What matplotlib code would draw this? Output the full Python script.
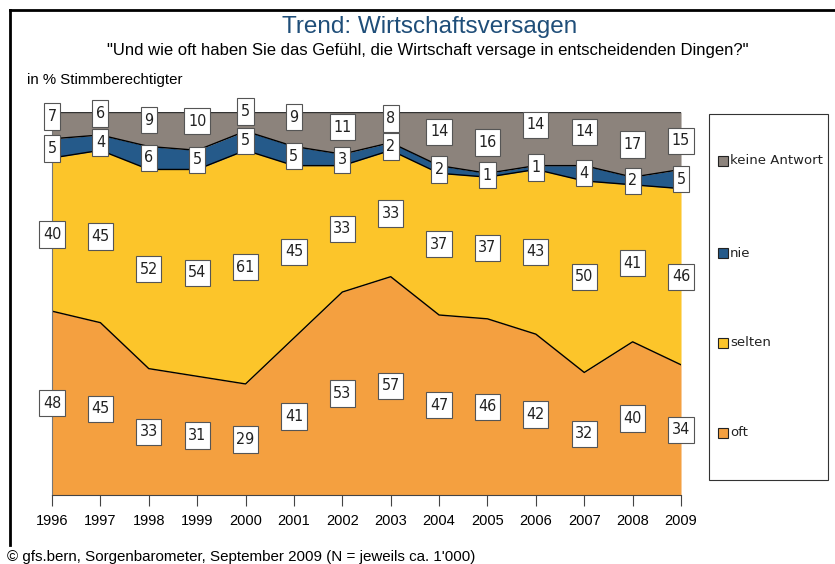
import numpy as np
import matplotlib
matplotlib.use("Agg")
import matplotlib.pyplot as plt
import matplotlib.patches as mpatches
from matplotlib.lines import Line2D
from matplotlib.path import Path

years = [1996, 1997, 1998, 1999, 2000, 2001, 2002, 2003, 2004, 2005, 2006, 2007, 2008, 2009]
oft = [48, 45, 33, 31, 29, 41, 53, 57, 47, 46, 42, 32, 40, 34]
selten = [40, 45, 52, 54, 61, 45, 33, 33, 37, 37, 43, 50, 41, 46]
nie = [5, 4, 6, 5, 5, 5, 3, 2, 2, 1, 1, 4, 2, 5]
keine = [7, 6, 9, 10, 5, 9, 11, 8, 14, 16, 14, 14, 17, 15]

series = [oft, selten, nie, keine]
names = ['oft', 'selten', 'nie', 'keine Antwort']
colors = ['#F4A040', '#FCC52A', '#255A8A', '#8C837C']

# nudge (pixels, up) of the "keine Antwort" labels, as in the original
keine_nudge = [9, 10, 9, 10, 10, 12, 6, 9, 7, 0, 14, 7, 0, 0]

txtfont = 'Liberation Sans'


def label_box(x0, y0, width, height, mutation_size):
    # narrow horizontal padding, tall boxes
    px = 3.5
    h = max(height, 1.65 * mutation_size)
    cy = y0 + height / 2
    xa, xb = x0 - px, x0 + width + px
    ya, yb = cy - h / 2, cy + h / 2
    return Path([(xa, ya), (xb, ya), (xb, yb), (xa, yb), (xa, ya)], closed=True)


fig = plt.figure(figsize=(8.35, 5.64), dpi=100)
ax = fig.add_axes([0.0623, 0.1223, 0.7533, 0.6791])

x = np.array(years)
data = np.array(series, dtype=float)
cum = np.cumsum(data, axis=0)
base = np.vstack([np.zeros(len(x)), cum[:-1]])

for i in range(len(series)):
    ax.fill_between(x, base[i], cum[i], color=colors[i], linewidth=0)
# boundary lines
ax.plot(x, cum[0], color='black', lw=1)
ax.plot(x, cum[1], color='black', lw=1)
ax.plot(x, cum[2], color='black', lw=1)
ax.plot(x, cum[3], color='#333333', lw=1)

# value labels in boxes
for i in range(len(series)):
    mids = base[i] + data[i] / 2
    for j, (xi, yi, v) in enumerate(zip(x, mids, data[i])):
        up = keine_nudge[j] if i == 3 else 0
        ax.annotate('%d' % v, (xi, yi), xytext=(0, up * 0.72), textcoords='offset points',
                    ha='center', va='center', fontsize=11.5, family='DejaVu Sans',
                    fontstretch='condensed', color='#222222', zorder=5,
                    bbox=dict(boxstyle=label_box, fc='white', ec='#555555', lw=0.8))

ax.set_xlim(1996, 2009)
ax.set_ylim(0, 100)
ax.set_xticks(years)
ax.set_xticklabels([str(y) for y in years], family=txtfont, fontsize=10.5)
ax.tick_params(axis='x', length=8, direction='out', color='#444444', pad=6)
ax.set_yticks([])
for s in ['top', 'right']:
    ax.spines[s].set_visible(False)
ax.spines['left'].set_color('#777777')
ax.spines['bottom'].set_color('#444444')

# legend box drawn in figure coordinates
W, H = 835.0, 564.0
fig.add_artist(mpatches.Rectangle((709 / W, 1 - 480 / H), 119 / W, 366 / H,
                                  transform=fig.transFigure, fc='white',
                                  ec='#333333', lw=0.8))
leg_y = [161, 253, 343, 433]
for k, i in enumerate(range(3, -1, -1)):
    yy = 1 - leg_y[k] / H
    fig.add_artist(mpatches.Rectangle((718 / W, yy - 5 / H), 10 / W, 10 / H,
                                      transform=fig.transFigure, fc=colors[i],
                                      ec='#222222', lw=0.8))
    fig.text(730 / W, yy, names[i], ha='left', va='center', fontsize=9.5,
             color='#222222')

fig.text(0.515, 0.952, 'Trend: Wirtschaftsversagen', ha='center', va='center',
         family=txtfont, fontsize=17.5, color='#1F4E79')
fig.text(0.512, 0.911, '"Und wie oft haben Sie das Gefühl, die Wirtschaft versage in entscheidenden Dingen?"',
         ha='center', va='center', family=txtfont, fontsize=12)
fig.text(0.032, 0.858, 'in % Stimmberechtigter', ha='left', va='center',
         family=txtfont, fontsize=10.8)
fig.text(0.008, 0.012, '© gfs.bern, Sorgenbarometer, September 2009 (N = jeweils ca. 1\'000)',
         ha='left', va='center', family=txtfont, fontsize=10.9)

# outer frame
fig.add_artist(Line2D([10 / W, 10 / W], [1 - 545 / H, 1 - 10 / H], color='black', lw=2,
                      transform=fig.transFigure))
fig.add_artist(Line2D([10 / W, 1.0], [1 - 10 / H, 1 - 10 / H], color='black', lw=2,
                      transform=fig.transFigure))

fig.savefig('out.png', dpi=100)
